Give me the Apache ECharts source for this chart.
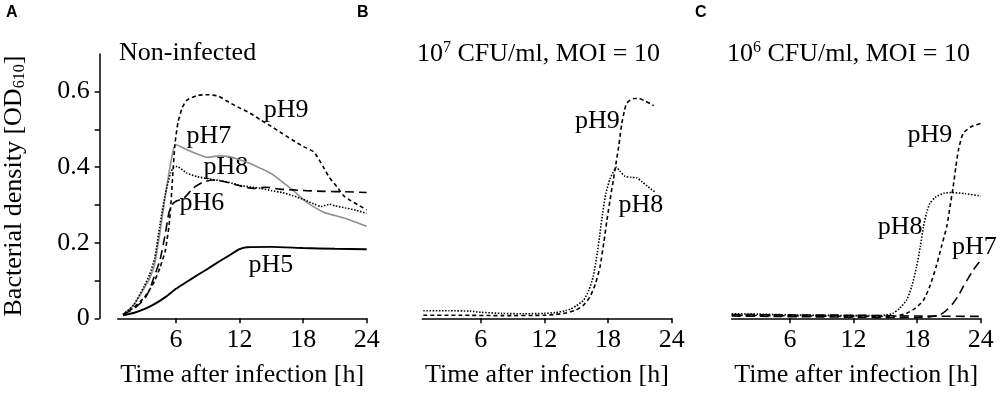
<!DOCTYPE html>
<html>
<head>
<meta charset="utf-8">
<script src="https://cdn.jsdelivr.net/npm/echarts@6/dist/echarts.min.js"></script>
<style>
  html, body { margin: 0; padding: 0; background: #fff; }
  #main { width: 1000px; height: 398px; }
</style>
</head>
<body>
<div id="main"></div>
<script>
// [hour, OD610]
const aPH5 = [[1,0.008],[2,0.014],[3,0.024],[4,0.038],[5,0.056],[6,0.078],[7,0.096],[8,0.114],[9,0.131],[10,0.149],[11,0.166],[12,0.183],[12.7,0.188],[15,0.189],[18,0.186],[21,0.184],[24,0.183]]
const aPH6 = [[1,0.01],[2,0.025],[3,0.05],[3.5,0.075],[4,0.115],[4.5,0.155],[5,0.225],[5.3,0.275],[5.6,0.3],[6,0.31],[6.75,0.318],[7.6,0.344],[8.5,0.36],[9.5,0.366],[10.5,0.362],[11.5,0.355],[12.5,0.347],[13.3,0.344],[14.5,0.347],[15.8,0.342],[17,0.34],[18.3,0.338],[20,0.336],[22,0.335],[24,0.333]]
const aPH7 = [[1,0.01],[2,0.035],[3,0.08],[3.5,0.105],[4,0.145],[4.5,0.23],[5,0.325],[5.5,0.41],[5.95,0.46],[7,0.447],[8,0.435],[9,0.426],[10,0.43],[11,0.428],[12,0.42],[13,0.41],[14,0.397],[15,0.383],[16,0.362],[17,0.34],[18,0.315],[19,0.295],[20,0.28],[21,0.272],[22,0.264],[23,0.254],[24,0.244]]
const aPH8 = [[1,0.01],[2,0.035],[3,0.085],[3.5,0.115],[4,0.16],[4.5,0.25],[5,0.33],[5.5,0.385],[5.8,0.4],[6.1,0.402],[7,0.385],[8,0.375],[9,0.37],[10,0.365],[11,0.36],[12,0.352],[13,0.348],[14,0.344],[15,0.338],[16,0.333],[17,0.325],[18,0.315],[19,0.303],[19.7,0.296],[20.5,0.302],[21,0.298],[22,0.292],[23,0.286],[24,0.278]]
const aPH9 = [[1,0.01],[2,0.028],[3,0.055],[3.5,0.075],[4,0.1],[4.5,0.135],[5,0.18],[5.4,0.26],[5.7,0.38],[5.9,0.46],[6.2,0.52],[6.6,0.558],[7,0.577],[8,0.59],[9,0.592],[10,0.588],[11,0.572],[12,0.557],[13,0.543],[14,0.525],[15,0.508],[16,0.49],[17,0.472],[18,0.455],[19,0.441],[19.5,0.42],[19.9,0.401],[20.5,0.372],[21.2,0.348],[21.8,0.325],[22.4,0.313],[23.2,0.3],[24,0.287]]

const bPH8 = [[0.6,0.02],[3,0.02],[5,0.019],[6,0.016],[8,0.013],[10,0.012],[12,0.013],[13,0.015],[14,0.02],[14.5,0.025],[15,0.033],[15.7,0.048],[16.2,0.075],[16.6,0.11],[17,0.175],[17.2,0.216],[17.5,0.28],[17.8,0.331],[18.2,0.37],[18.6,0.393],[18.8,0.4],[19.1,0.39],[19.6,0.376],[20.2,0.373],[20.7,0.372],[21.2,0.362],[21.7,0.35],[22.4,0.335]]
const bPH9 = [[0.6,0.008],[4,0.008],[8,0.007],[12,0.008],[13,0.01],[14,0.014],[15,0.022],[15.7,0.035],[16.3,0.057],[16.8,0.09],[17.25,0.137],[17.6,0.2],[17.9,0.26],[18.2,0.315],[18.5,0.366],[18.75,0.41],[19,0.454],[19.3,0.516],[19.55,0.55],[19.75,0.569],[20.1,0.578],[20.5,0.582],[20.9,0.582],[21.5,0.575],[22,0.568],[22.3,0.563]]

const cPH6 = [[0.5,0.01],[6,0.009],[12,0.008],[18,0.006],[24,0.005]]
const cPH7 = [[0.5,0.006],[4,0.005],[8,0.004],[12,0.003],[16,0.002],[18,0.002],[19,0.003],[20.15,0.009],[20.8,0.022],[21.4,0.04],[21.9,0.06],[22.35,0.084],[22.8,0.105],[23.3,0.128],[24,0.154]]
const cPH8 = [[0.5,0.012],[3,0.011],[6,0.009],[9,0.008],[12,0.007],[14,0.007],[15,0.008],[15.7,0.013],[16.3,0.025],[17,0.048],[17.5,0.085],[17.95,0.137],[18.3,0.19],[18.6,0.243],[18.9,0.28],[19.2,0.304],[19.7,0.32],[20.5,0.331],[21.3,0.333],[22.5,0.33],[24,0.324]]
const cPH9 = [[0.5,0.008],[4,0.007],[8,0.006],[12,0.005],[15,0.005],[16,0.006],[17,0.013],[17.8,0.026],[18.6,0.048],[19.2,0.085],[19.8,0.137],[20.3,0.19],[20.8,0.243],[21.1,0.295],[21.4,0.348],[21.65,0.4],[21.9,0.446],[22.35,0.49],[23.1,0.507],[24,0.516]]

// curve labels [hour, OD, text]
const labelsA = [[16.4,0.551,'pH9'],[9.1,0.481,'pH7'],[10.7,0.401,'pH8'],[8.45,0.305,'pH6'],[14.95,0.141,'pH5']]
const labelsB = [[17.0,0.522,'pH9'],[21.1,0.299,'pH8']]
const labelsC = [[19.2,0.485,'pH9'],[16.4,0.24,'pH8'],[23.4,0.187,'pH7']]

const xTicks = [6, 12, 18, 24]
const yTicks = [0, 0.1, 0.2, 0.3, 0.4, 0.5, 0.6]
const yLabels = [0, 0.2, 0.4, 0.6]

const serif = 'Liberation Serif'
const DOT = [1.5, 1.6]
const SHORT = [4, 3]
const LONG = [9, 5]

function line(grid, data, dash, color, width) {
  return {
    type: 'line',
    xAxisIndex: grid,
    yAxisIndex: grid,
    data: data,
    symbol: 'none',
    smooth: 0.2,
    silent: true,
    lineStyle: { color: color || '#000', width: width || 1.6, type: dash || 'solid' }
  }
}

function labels(grid, data) {
  return {
    type: 'scatter',
    xAxisIndex: grid,
    yAxisIndex: grid,
    data: data,
    symbolSize: 0,
    silent: true,
    itemStyle: { opacity: 1 },
    label: {
      show: true,
      position: 'inside',
      formatter: p => p.data[2],
      fontFamily: serif,
      fontSize: 26,
      color: '#000',
      opacity: 1,
      textBorderWidth: 0
    }
  }
}

const xAxis = idx => ({
  type: 'value',
  gridIndex: idx,
  min: 0.5,
  max: 24,
  splitLine: { show: false },
  axisLine: { lineStyle: { color: '#000', width: 1.5 } },
  axisTick: { length: 5, lineStyle: { color: '#000', width: 1.5 }, customValues: xTicks },
  axisLabel: { customValues: xTicks, margin: 9, fontFamily: serif, fontSize: 26, color: '#000' },
  name: 'Time after infection [h]',
  nameLocation: 'middle',
  nameGap: 44,
  nameTextStyle: { fontFamily: serif, fontSize: 26, color: '#000' }
})

const yAxis = idx => ({
  type: 'value',
  gridIndex: idx,
  min: 0,
  max: 0.7,
  show: idx === 0,
  offset: 18,
  splitLine: { show: false },
  axisLine: { show: true, lineStyle: { color: '#000', width: 1.5 } },
  axisTick: { length: 5, lineStyle: { color: '#000', width: 1.5 }, customValues: yTicks },
  axisLabel: {
    customValues: yLabels,
    margin: 10,
    fontFamily: serif,
    fontSize: 26,
    color: '#000',
    formatter: v => v === 0 ? '0' : v.toFixed(1)
  },
  name: 'Bacterial density [OD{sub|610}]',
  nameLocation: 'middle',
  nameRotate: 90,
  nameGap: 72,
  nameTextStyle: {
    fontFamily: serif, fontSize: 26, color: '#000',
    rich: { sub: { fontFamily: serif, fontSize: 16, color: '#000', verticalAlign: 'bottom', padding: [12, 0, 0, 0] } }
  }
})

const titleStyle = {
  fontFamily: serif, fontSize: 26, fontWeight: 'normal', color: '#000',
  rich: { sup: { fontFamily: serif, fontSize: 16, color: '#000', verticalAlign: 'top', padding: [0, 0, 12, 0] } }
}
const letterStyle = { fontFamily: 'Liberation Sans', fontSize: 16, fontWeight: 'bold', color: '#000' }

const option = {
  animation: false,
  backgroundColor: '#fff',
  title: [
    { text: 'A', left: 6, top: 5, padding: 0, textStyle: letterStyle },
    { text: 'B', left: 357, top: 5, padding: 0, textStyle: letterStyle },
    { text: 'C', left: 695, top: 5, padding: 0, textStyle: letterStyle },
    { text: 'Non-infected', left: 119, top: 40, padding: 0, textStyle: titleStyle },
    { text: '10{sup|7} CFU/ml, MOI = 10', left: 417, top: 40, padding: 0, textStyle: titleStyle },
    { text: '10{sup|6} CFU/ml, MOI = 10', left: 727, top: 40, padding: 0, textStyle: titleStyle }
  ],
  grid: [
    { left: 117.7, top: 53.9, width: 249, height: 264.4, outerBoundsMode: 'none' },
    { left: 422.3, top: 53.9, width: 249.4, height: 264.4, outerBoundsMode: 'none' },
    { left: 731.7, top: 53.9, width: 249, height: 264.4, outerBoundsMode: 'none' }
  ],
  xAxis: [xAxis(0), xAxis(1), xAxis(2)],
  yAxis: [yAxis(0), yAxis(1), yAxis(2)],
  series: [
    line(0, aPH5, 'solid', '#000', 1.9),
    line(0, aPH7, 'solid', '#8f8f8f', 1.6),
    line(0, aPH6, LONG),
    line(0, aPH8, DOT),
    line(0, aPH9, SHORT),
    labels(0, labelsA),
    line(1, bPH8, DOT),
    line(1, bPH9, SHORT),
    labels(1, labelsB),
    line(2, cPH6, LONG),
    line(2, cPH7, LONG),
    line(2, cPH8, DOT),
    line(2, cPH9, SHORT),
    labels(2, labelsC)
  ]
}

const chart = echarts.init(document.getElementById('main'))
chart.setOption(option)
</script>
</body>
</html>
